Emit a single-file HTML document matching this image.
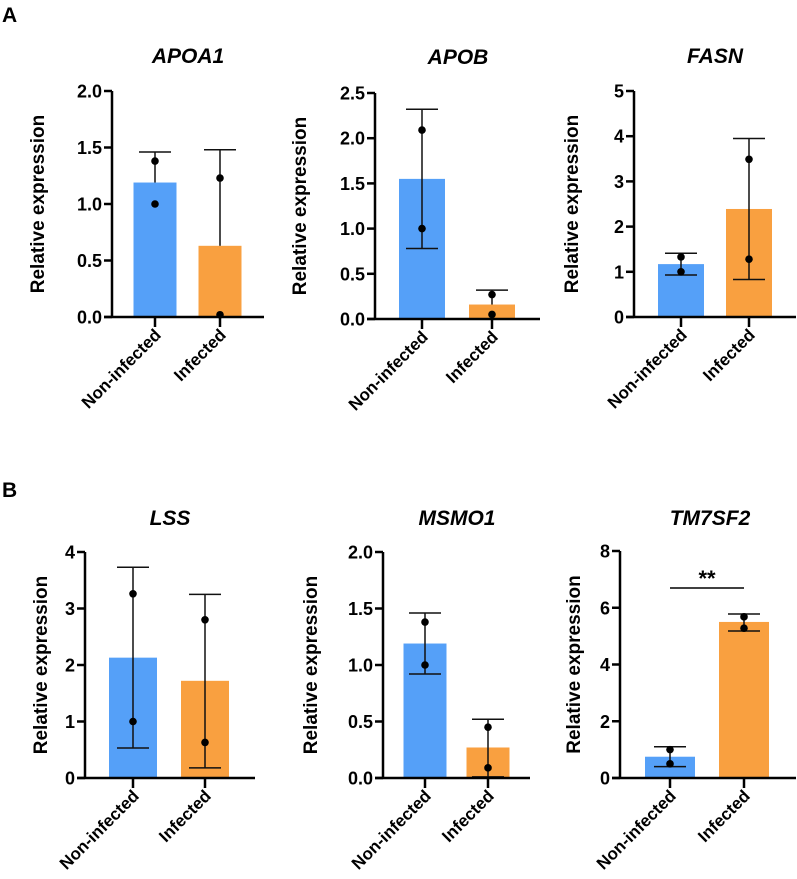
<!DOCTYPE html>
<html><head><meta charset="utf-8"><style>
body{margin:0;background:#fff;}
svg{display:block;font-family:"Liberation Sans",Arial,sans-serif;}
</style></head><body>
<svg id="fig" width="797" height="879" viewBox="0 0 797 879">
<text x="2" y="22" font-size="21" font-weight="bold">A</text>
<text x="2" y="497" font-size="21" font-weight="bold">B</text>
</svg>
<script>
const categories = ["Non-infected", "Infected"];
const apoa1Means = [1.19, 0.63], apoa1Hi = [1.46, 1.48], apoa1Lo = [null, null], apoa1Pts = [[1.38, 1.0], [1.23, 0.02]], apoa1Ticks = ["0.0","0.5","1.0","1.5","2.0"];
const apobMeans = [1.55, 0.16], apobHi = [2.32, 0.32], apobLo = [0.78, null], apobPts = [[2.09, 1.0], [0.27, 0.05]], apobTicks = ["0.0","0.5","1.0","1.5","2.0","2.5"];
const fasnMeans = [1.17, 2.39], fasnHi = [1.41, 3.95], fasnLo = [0.93, 0.83], fasnPts = [[1.33, 1.0], [3.49, 1.28]], fasnTicks = ["0","1","2","3","4","5"];
const lssMeans = [2.13, 1.72], lssHi = [3.73, 3.25], lssLo = [0.53, 0.18], lssPts = [[3.26, 1.0], [2.8, 0.63]], lssTicks = ["0","1","2","3","4"];
const msmo1Means = [1.19, 0.27], msmo1Hi = [1.46, 0.52], msmo1Lo = [0.92, 0.01], msmo1Pts = [[1.38, 1.0], [0.45, 0.09]], msmo1Ticks = ["0.0","0.5","1.0","1.5","2.0"];
const tm7sf2Means = [0.75, 5.5], tm7sf2Hi = [1.1, 5.78], tm7sf2Lo = [0.4, 5.18], tm7sf2Pts = [[1.0, 0.5], [5.68, 5.28]], tm7sf2Ticks = ["0","2","4","6","8"];

const NS = "http://www.w3.org/2000/svg";
const svg = document.getElementById("fig");
const colors = ["#55a0f8", "#f9a040"];
function el(tag, attrs, parent){const e=document.createElementNS(NS,tag);for(const k in attrs)e.setAttribute(k,attrs[k]);(parent||svg).appendChild(e);return e;}

const panels = [
 {name:"APOA1", means:apoa1Means, hi:apoa1Hi, lo:apoa1Lo, pts:apoa1Pts, ticks:apoa1Ticks, ax:112, top:91, zero:317, end:264, cx:[155,220], bw:43, tx:188, ty:63, lx:44},
 {name:"APOB", means:apobMeans, hi:apobHi, lo:apobLo, pts:apobPts, ticks:apobTicks, ax:375, top:93, zero:319, end:540, cx:[422,492], bw:46, tx:458, ty:64, lx:306},
 {name:"FASN", means:fasnMeans, hi:fasnHi, lo:fasnLo, pts:fasnPts, ticks:fasnTicks, ax:634, top:91, zero:317, end:796, cx:[681,749], bw:46, tx:715, ty:63, lx:578},
 {name:"LSS", means:lssMeans, hi:lssHi, lo:lssLo, pts:lssPts, ticks:lssTicks, ax:85, top:552, zero:778, end:255, cx:[133,205], bw:48, tx:170, ty:525, lx:47},
 {name:"MSMO1", means:msmo1Means, hi:msmo1Hi, lo:msmo1Lo, pts:msmo1Pts, ticks:msmo1Ticks, ax:383, top:552, zero:778, end:530, cx:[425,488], bw:43, tx:457, ty:525, lx:317},
 {name:"TM7SF2", means:tm7sf2Means, hi:tm7sf2Hi, lo:tm7sf2Lo, pts:tm7sf2Pts, ticks:tm7sf2Ticks, ax:620, top:551, zero:778, end:796, cx:[670,744], bw:50, tx:710, ty:525, lx:580, sig:true}
];

panels.forEach(p=>{
  const id = p.name.toLowerCase();
  const g = el("g",{});
  
  
  const ymax = parseFloat(p.ticks[p.ticks.length-1]);
  const y = v => p.zero - (v/ymax)*(p.zero-p.top);
  const t = el("text",{x:p.tx,y:p.ty,"font-size":21,"font-weight":"bold","font-style":"italic","text-anchor":"middle"},g);
  t.textContent = p.name;
  
  
  const yl = el("text",{x:0,y:0,"font-size":19,"font-weight":"bold","text-anchor":"middle",transform:`translate(${p.lx},${(p.top+p.zero)/2}) rotate(-90)`},g);
  yl.textContent = "Relative expression";
  
  
  p.means.forEach((m,i)=>{
    const r = el("rect",{x:p.cx[i]-p.bw/2,y:y(m),width:p.bw,height:p.zero-y(m),fill:colors[i]},g);
    
    
  });
  p.means.forEach((m,i)=>{
    const c = p.cx[i], cw = 16;
    const lo = p.lo[i]===null ? m : p.lo[i];
    const eb = el("line",{x1:c,x2:c,y1:y(p.hi[i]),y2:y(lo),stroke:"#111","stroke-width":1.5},g);
    
    
    el("line",{x1:c-cw,x2:c+cw,y1:y(p.hi[i]),y2:y(p.hi[i]),stroke:"#111","stroke-width":1.5},g);
    if(p.lo[i]!==null) el("line",{x1:c-cw,x2:c+cw,y1:y(p.lo[i]),y2:y(p.lo[i]),stroke:"#111","stroke-width":1.5},g);
    p.pts[i].forEach(v=>{
      const d = el("circle",{cx:c,cy:y(v),r:3.8,fill:"#000"},g);
      
      
    });
  });
  const ya = el("line",{x1:p.ax,x2:p.ax,y1:p.top,y2:p.zero+1,stroke:"#000","stroke-width":2.5},g);
  
  
  const xa = el("line",{x1:p.ax-8,x2:p.end,y1:p.zero,y2:p.zero,stroke:"#000","stroke-width":2.5},g);
  
  
  p.ticks.forEach(tk=>{
    const v = parseFloat(tk);
    el("line",{x1:p.ax-8,x2:p.ax,y1:y(v),y2:y(v),stroke:"#000","stroke-width":2.5},g);
    const tl = el("text",{x:p.ax-10,y:y(v)+6.5,"font-size":18,"font-weight":"bold","text-anchor":"end"},g);
    tl.textContent = tk;
    
    
  });
  categories.forEach((c,i)=>{
    el("line",{x1:p.cx[i],x2:p.cx[i],y1:p.zero,y2:p.zero+10,stroke:"#000","stroke-width":2.5},g);
    const xl = el("text",{x:0,y:0,"font-size":17,"font-weight":"bold","text-anchor":"end",transform:`translate(${p.cx[i]+7},${p.zero+19}) rotate(-45)`},g);
    xl.textContent = c;
    
    
  });
  if(p.sig){
    const sl = el("line",{x1:p.cx[0],x2:p.cx[1],y1:588,y2:588,stroke:"#000","stroke-width":1.5},g);
    
    
    const st = el("text",{x:(p.cx[0]+p.cx[1])/2,y:586,"font-size":22,"font-weight":"bold","text-anchor":"middle"},g);
    st.textContent = "**";
    
    
  }
});
</script>
</body></html>
